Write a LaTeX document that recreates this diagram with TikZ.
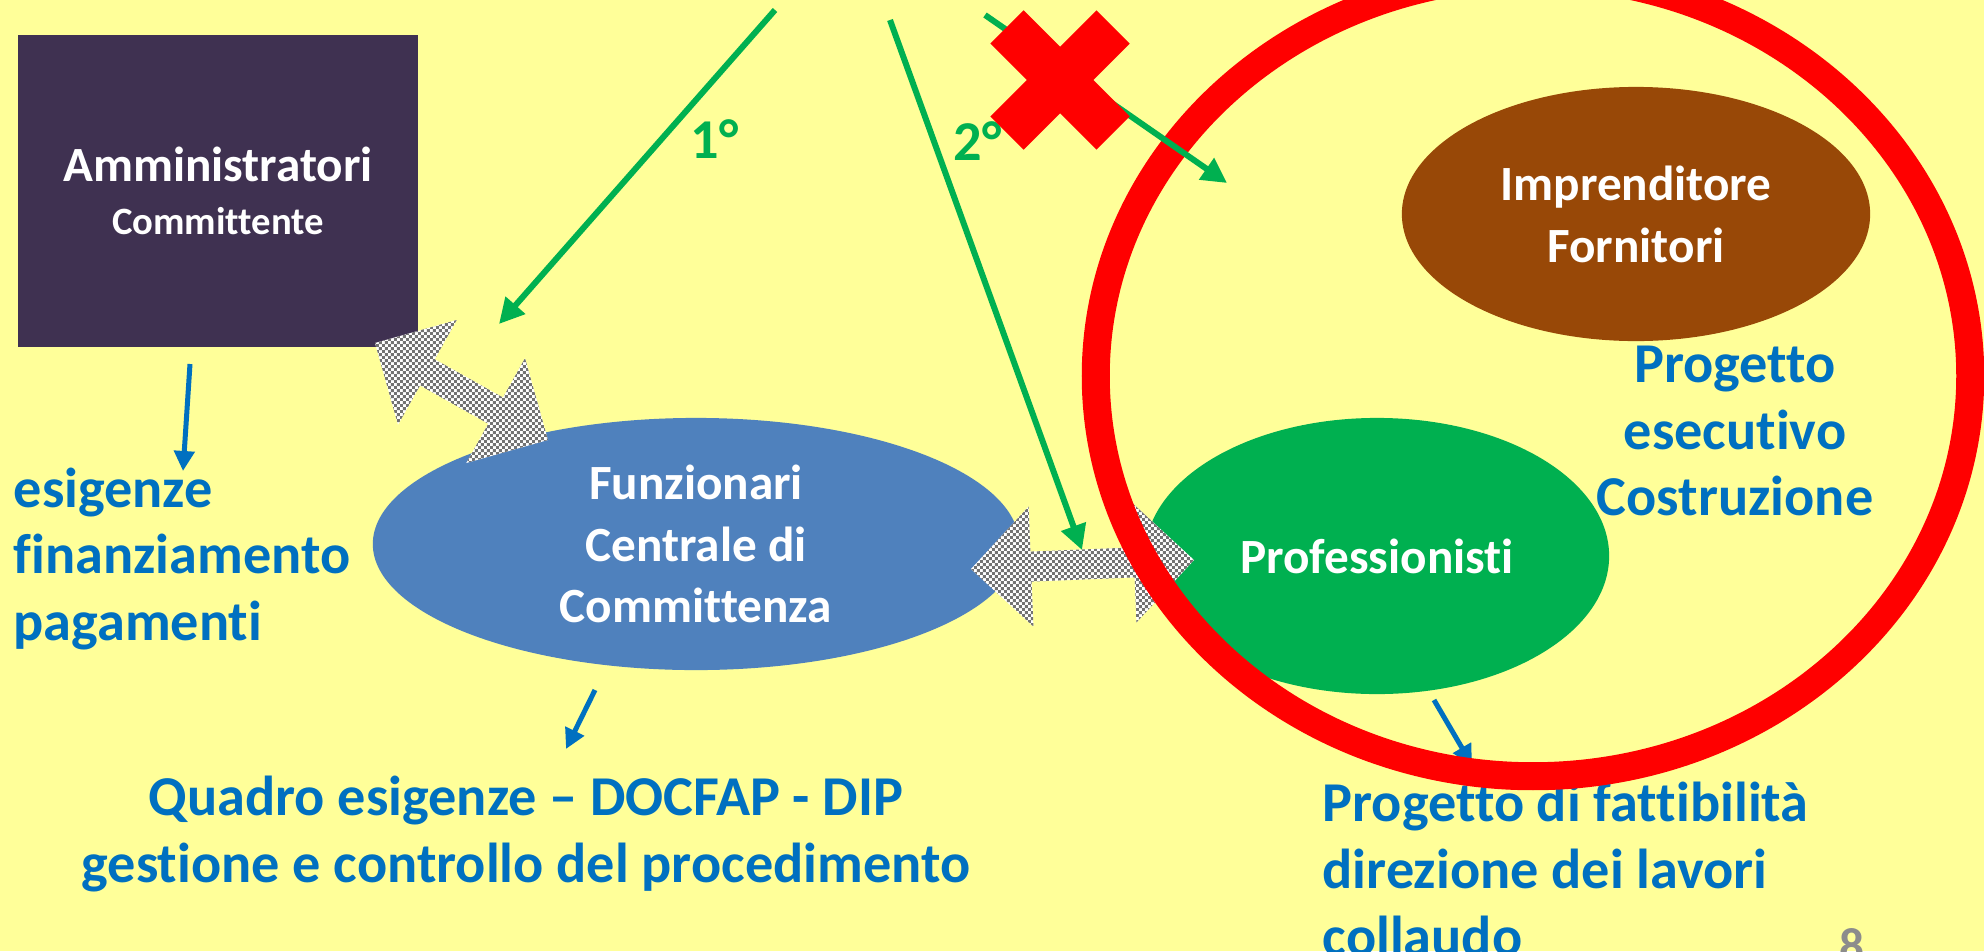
\documentclass[tikz,border=0pt]{standalone}
\usepackage{fontspec}
\setmainfont{Carlito}[Ligatures=NoCommon]
\usepackage{xcolor}
\usetikzlibrary{arrows.meta,calc,shapes.geometric,patterns.meta}

\definecolor{bgyellow}{HTML}{FFFF99}
\definecolor{boxpurple}{HTML}{3F3151}
\definecolor{ellblue}{HTML}{4F81BD}
\definecolor{ellgreen}{HTML}{00B050}
\definecolor{ellbrown}{HTML}{984807}
\definecolor{txtblue}{HTML}{0070C0}
\definecolor{pagegray}{HTML}{8C8C8C}

\tikzdeclarepattern{
  name=finecheck,
  type=uncolored,
  tile size={(1.7pt,1.7pt)},
  bottom left={(0pt,0pt)}, top right={(1.7pt,1.7pt)},
  code={
    \pgfpathrectangle{\pgfpoint{0pt}{0pt}}{\pgfpoint{0.85pt}{0.85pt}}
    \pgfpathrectangle{\pgfpoint{0.85pt}{0.85pt}}{\pgfpoint{0.85pt}{0.85pt}}
    \pgfusepath{fill}
  }}

\tikzset{
  tiearrow/.style={preaction={fill=white}, pattern=finecheck, pattern color=gray!90!black,
    to path={let \p1=($(\tikztostart)!0.6cm!(\tikztotarget)$),
                 \p2=($(\tikztotarget)!0.6cm!(\tikztostart)$) in
      -- ($(\p1)!0.6cm!90:(\tikztotarget)$) -- ($(\p1)!0.15cm!90:(\tikztotarget)$)
      -- ($(\p2)!0.15cm!-90:(\tikztostart)$) -- ($(\p2)!0.6cm!-90:(\tikztostart)$)
      -- (\tikztotarget)
      -- ($(\p2)!0.6cm!90:(\tikztostart)$) -- ($(\p2)!0.15cm!90:(\tikztostart)$)
      -- ($(\p1)!0.15cm!-90:(\tikztotarget)$) -- ($(\p1)!0.6cm!-90:(\tikztotarget)$)
      -- cycle}}
}

\begin{document}
\begin{tikzpicture}[x=0.01cm, y=-0.01cm,
    every node/.style={inner sep=0pt},
    bubble/.style={ellipse, text=white, align=center, font=\fontsize{14}{17.6}\selectfont\bfseries},
    bluetext/.style={text=txtblue, font=\fontsize{16}{19}\selectfont\bfseries},
    bluearrow/.style={txtblue, line width=0.05cm, -{Triangle[length=0.2cm, width=0.2cm]}},
    greenarrow/.style={ellgreen, line width=0.06cm, -{Triangle[length=0.25cm, width=0.25cm]}}]
        \useasboundingbox (0,0) rectangle (1984,951);
        \fill[bgyellow] (0,0) rectangle (1984,951);

        % Actors
        \node[fill=boxpurple, minimum width=3.99cm, minimum height=3.12cm, text=white, align=center,
            font=\fontsize{14}{17}\selectfont\bfseries] (amm) at (218,191)
            {\raisebox{-4pt}{Amministratori}\\[2pt]{\fontsize{11}{13}\selectfont Committente}};
        \node[bubble, fill=ellblue, minimum width=6.46cm, minimum height=2.52cm] (funz) at (696,544)
            {Funzionari\\Centrale di\\Committenza};
        \node[bubble, fill=ellgreen, minimum width=4.64cm, minimum height=2.76cm] (prof) at (1377,556)
            {Professionisti};
        \node[bubble, fill=ellbrown, minimum width=4.68cm, minimum height=2.54cm] (impr) at (1636,214)
            {Imprenditore\\Fornitori};

        % Tasks
        \node[bluetext, align=left, anchor=west] (esig) at (13,559)
            {esigenze\\finanziamento\\pagamenti};
        \node[bluetext, align=center] (quadro) at (526,834)
            {Quadro esigenze – DOCFAP - DIP\\gestione e controllo del procedimento};
        \node[bluetext, align=left, anchor=west] (fatt) at (1322,869)
            {Progetto di fattibilità\\direzione dei lavori\\collaudo};
        \node[bluetext, align=center] (esec) at (1735,431)
            {Progetto\\esecutivo\\Costruzione};

        % Who does what
        \coordinate (ammout) at (190,364);
        \coordinate (esigin) at (183,471);
        \coordinate (funzout) at (595,690);
        \coordinate (quadroin) at (566,749);
        \coordinate (profout) at (1434,700);
        \coordinate (fattin) at (1472,765);
        \draw[bluearrow] (ammout) -- (esigin);
        \draw[bluearrow] (funzout) -- (quadroin);
        \draw[bluearrow] (profout) -- (fattin);

        % Relations
        \coordinate (tieA1) at (375,343);
        \coordinate (tieA2) at (548,440);
        \coordinate (tieB1) at (971,569);
        \coordinate (tieB2) at (1194,560);
        \path[tiearrow] (tieA1) to (tieA2);
        \path[tiearrow] (tieB1) to (tieB2);

        % Outsourced side
        \draw[red, line width=0.28cm] (1533,376) ellipse [x radius=4.37cm, y radius=4cm];

        % Order of assignment
        \coordinate (top1) at (775,10);
        \coordinate (end1) at (499,324);
        \coordinate (top2) at (890,20);
        \coordinate (end2) at (1082,550);
        \coordinate (top3) at (985,15);
        \coordinate (end3) at (1227,183);
        \draw[greenarrow] (top1) -- (end1)
            node[pos=0.41, right=0.26cm, text=ellgreen, font=\fontsize{16}{19}\selectfont\bfseries] (first) {1°};
        \draw[greenarrow] (top2) -- (end2)
            node[pos=0.228, right=0.17cm, text=ellgreen, font=\fontsize{16}{19}\selectfont\bfseries] (second) {2°};
        \draw[greenarrow] (top3) -- (end3);

        % No direct route
        \begin{scope}[shift={(1060,80)}]
            \fill[red, rotate=45] (-0.75cm,-0.235cm) rectangle (0.75cm,0.235cm);
            \fill[red, rotate=-45] (-0.75cm,-0.235cm) rectangle (0.75cm,0.235cm);
        \end{scope}

        \node[text=pagegray, font=\fontsize{14}{16}\selectfont\bfseries] (pagenum) at (1852,946) {8};
\end{tikzpicture}
\end{document}
